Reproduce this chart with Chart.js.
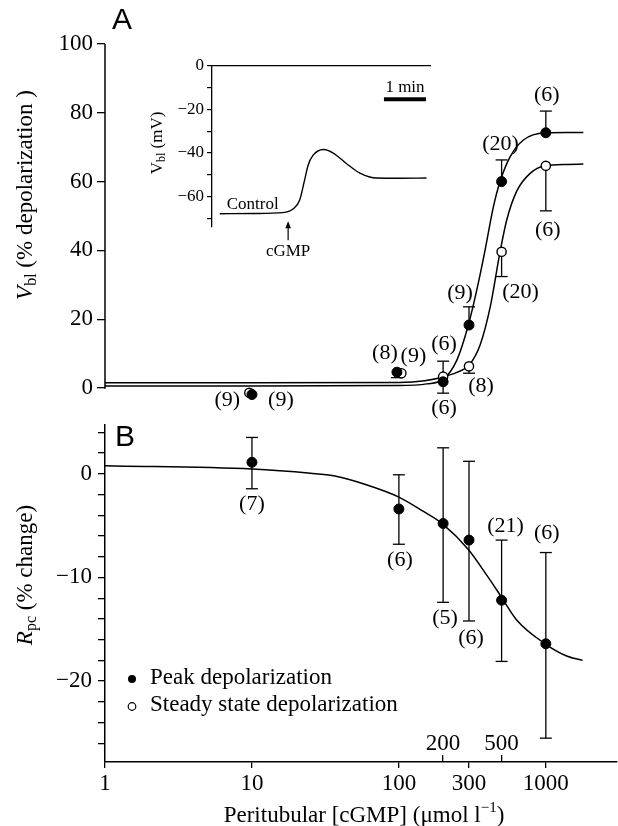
<!DOCTYPE html>
<html><head><meta charset="utf-8">
<script src="https://cdn.jsdelivr.net/npm/chart.js@4"></script>
<style>
html,body{margin:0;padding:0;background:#fff;}
#wrap{position:relative;width:618px;height:826px;overflow:hidden;}
canvas{position:absolute;}
</style></head><body>
<div id="wrap">
<canvas id="cB" width="618" height="426" style="left:0;top:400px"></canvas>
<canvas id="cA" width="618" height="420" style="left:0;top:0"></canvas>
<canvas id="cI" width="300" height="215" style="left:140px;top:50px"></canvas>
</div>
<script>
// ---------------- DATA ----------------
const seriesNames = ['Peak depolarization', 'Steady state depolarization'];

// Panel A: peak depolarization (filled)
const concA_peak = [10, 97, 200, 300, 500, 1000];
const valA_peak  = [-1.9, 4.6, 1.8, 18.3, 60, 74.2];
const errEndA_peak = [null, 3.0, -1.5, 23.6, 66.3, 80.5];
const nA_peak = ['(9)', '(8)', '(6)', '(9)', '(20)', '(6)'];

// Panel A: steady state depolarization (open)
const concA_steady = [9.6, 104, 200, 300, 500, 1000];
const valA_steady  = [-1.4, 4.3, 3.3, 6.3, 39.6, 64.6];
const errEndA_steady = [null, null, 7.8, 4.3, 32.4, 51.5];
const nA_steady = ['(9)', '(9)', '(6)', '(8)', '(20)', '(6)'];

// Panel A fitted curves
const fitA_peak_x = [1, 10, 100, 155, 200, 248, 297, 339, 386, 440, 488, 571, 704, 989, 1400, 1800];
const fitA_peak_y = [0.6, 0.6, 0.7, 1.2, 2.5, 8.1, 18.3, 28.5, 40.1, 52.7, 60, 67.2, 72.1, 74.2, 74.3, 74.3];
const fitA_steady_x = [1, 10, 100, 150, 200, 250, 300, 357, 418, 488, 543, 635, 782, 989, 1400, 1800];
const fitA_steady_y = [1.5, 1.5, 1.6, 2.1, 3.2, 4.6, 6.6, 12.5, 23.5, 39.6, 49.0, 57.3, 62.4, 64.6, 65.0, 65.1];

// Panel B: Rpc (% change)
const concB = [10, 100, 200, 300, 500, 1000];
const valB  = [1.1, -3.4, -4.8, -6.4, -12.2, -16.4];
const errB_hi = [3.5, -0.1, 2.5, 1.2, -6.4, -7.6];
const errB_lo = [-1.45, -6.8, -12.4, -14.2, -18.1, -25.5];
const nB = ['(7)', '(6)', '(5)', '(6)', '(21)', '(6)'];
const fitB_x = [1, 10, 25, 36, 60, 100, 147, 198, 297, 397, 489, 633, 989, 1372, 1780];
const fitB_y = [0.77, 0.45, 0.05, -0.2, -1.06, -2.25, -3.64, -4.83, -7.3, -9.8, -11.7, -14.1, -16.4, -17.55, -18.0];

// Axis ticks
const xTicksDown = [1, 10, 100, 300, 1000];
const xTicksUp = [200, 500];
const yTicksA = [0, 20, 40, 60, 80, 100];
const yTicksB = [-26, -24, -22, -20, -18, -16, -14, -12, -10, -8, -6, -4, -2, 0, 2, 4];
const yTicksInset = [-70, -60, -50, -40, -30, -20, -10, 0];

// Inset trace: time (s) vs Vbl (mV)
const traceT = [11, 60, 101, 116, 125, 132, 137, 144, 159, 173, 192, 211, 235, 268, 306];
const traceV = [-67.9, -67.8, -67.4, -65.6, -61.7, -52.6, -45.7, -41.1, -38.4, -40.0, -44.9, -49.2, -51.5, -51.6, -51.5];
const scaleBarT = [245.3, 305.3];
const scaleBarV = [-15.3, -15.3];

// ---------------- LAYOUT / STYLE ----------------
const SERIF = "'Liberation Serif', 'Times New Roman', serif";
const SANS = "'Liberation Sans', Arial, sans-serif";
const TICK_FONT = {family: SERIF, size: 23};
const LABEL_FONT = '22px ' + SERIF;
const INK = '#000';
const X_MIN = 1, X_MAX = 3050;
const labelOffA_peak = [[29, 5.5], [-12, -19], [1, 26], [-9, -32], [-1, -37], [1, -38]];
const labelOffA_steady = [[-22, 7], [12, -17], [1, -32], [12, 20], [19, 40], [2, 64]];
const labelOffB = [[0, 42], [1, 51], [2, 95], [2, 98], [4, -74], [1, -111]];
const insetNotes = {
  minLabel: {t: 275.3, v: -11.9},
  control: {t: 21, v: -65.9},
  arrow: {t: 108.6, from: -80.1, to: -71.3},
  cgmp: {t: 108.6, v: -85.5}
};

Chart.defaults.color = INK;
Chart.defaults.font.family = SERIF;

function minus(v) { return v < 0 ? '\u2212' + Math.abs(v) : String(v); }

function richText(ctx, segs, x, y, rot) {
  ctx.save();
  ctx.translate(x, y);
  if (rot) ctx.rotate(rot);
  ctx.textBaseline = 'middle';
  ctx.textAlign = 'left';
  let w = 0;
  segs.forEach(s => { ctx.font = s.font; s.w = ctx.measureText(s.t).width; w += s.w; });
  let cx = -w / 2;
  segs.forEach(s => { ctx.font = s.font; ctx.fillText(s.t, cx, s.dy || 0); cx += s.w; });
  ctx.restore();
}

function pts(xs, ys) { return xs.map((x, i) => ({x: x, y: ys[i]})); }

function curveDs(xs, ys) {
  return {type: 'line', data: pts(xs, ys), borderColor: INK, borderWidth: 1.5, pointRadius: 0,
    cubicInterpolationMode: 'monotone', order: 2, fill: false};
}
function pointDs(xs, ys, filled) {
  return {type: 'line', data: pts(xs, ys), showLine: false, clip: false, order: 0,
    pointRadius: filled ? 5 : 4.6, pointBackgroundColor: filled ? INK : '#fff',
    pointBorderColor: INK, pointBorderWidth: filled ? 1 : 1.4};
}
function errOneSided(xs, ys, ends) {
  const out = [];
  xs.forEach((x, i) => {
    if (ends[i] === null) return;
    out.push({type: 'line', data: [{x: x, y: ys[i]}, {x: x, y: ends[i]}], borderColor: INK, borderWidth: 1.3,
      pointStyle: 'line', pointRadius: [0, 6], pointBorderColor: INK, pointBorderWidth: 1.3, order: 1, clip: false});
  });
  return out;
}
function errTwoSided(xs, lo, hi) {
  return xs.map((x, i) => ({type: 'line', data: [{x: x, y: lo[i]}, {x: x, y: hi[i]}], borderColor: INK, borderWidth: 1.3,
    pointStyle: 'line', pointRadius: 6, pointBorderColor: INK, pointBorderWidth: 1.3, order: 1, clip: false}));
}

const common = {
  animation: false, responsive: false, devicePixelRatio: 1, events: [],
  plugins: {legend: {display: false}, tooltip: {enabled: false}}
};

// ---------------- PANEL A ----------------
const pluginA = {
  id: 'panelA',
  beforeDatasetsDraw(chart) {
    const {ctx, scales: {y}, chartArea} = chart;
    ctx.save();
    ctx.strokeStyle = INK; ctx.lineWidth = 1.5;
    ctx.beginPath();
    ctx.moveTo(chartArea.left, y.getPixelForValue(yTicksA[yTicksA.length - 1]));
    ctx.lineTo(chartArea.left, y.getPixelForValue(yTicksA[0]) + 0.7);
    ctx.stroke();
    ctx.restore();
  },
  afterDatasetsDraw(chart) {
    const {ctx, scales: {x, y}, chartArea} = chart;
    ctx.save();
    ctx.fillStyle = INK;
    ctx.font = LABEL_FONT; ctx.textAlign = 'center'; ctx.textBaseline = 'middle';
    concA_peak.forEach((c, i) => {
      const o = labelOffA_peak[i];
      ctx.fillText(nA_peak[i], x.getPixelForValue(c) + o[0], y.getPixelForValue(valA_peak[i]) + o[1]);
    });
    concA_steady.forEach((c, i) => {
      const o = labelOffA_steady[i];
      ctx.fillText(nA_steady[i], x.getPixelForValue(c) + o[0], y.getPixelForValue(valA_steady[i]) + o[1]);
    });
    ctx.font = '30px ' + SANS; ctx.textAlign = 'left';
    ctx.fillText('A', chartArea.left + 7, 21);
    richText(ctx, [
      {t: 'V', font: 'italic 23px ' + SERIF},
      {t: 'bl', font: '16px ' + SERIF, dy: 6},
      {t: ' (% depolarization )', font: '23px ' + SERIF}
    ], 26, 195, -Math.PI / 2);
    ctx.restore();
  }
};

new Chart(document.getElementById('cA'), {
  type: 'line',
  data: {datasets: [
    curveDs(fitA_peak_x, fitA_peak_y),
    curveDs(fitA_steady_x, fitA_steady_y),
    ...errOneSided(concA_peak, valA_peak, errEndA_peak),
    ...errOneSided(concA_steady, valA_steady, errEndA_steady),
    pointDs(concA_peak, valA_peak, true),
    pointDs(concA_steady, valA_steady, false)
  ]},
  options: Object.assign({}, common, {
    layout: {autoPadding: false, padding: {top: 44, bottom: 18.24, left: 0, right: 1}},
    scales: {
      x: {type: 'logarithmic', min: X_MIN, max: X_MAX, display: false},
      y: {type: 'linear', min: -4, max: 100, position: 'left',
        afterFit(s) { s.width = 105; },
        afterBuildTicks(s) { s.ticks = yTicksA.map(v => ({value: v})); },
        ticks: {font: TICK_FONT, color: INK, padding: 4, callback: v => minus(v)},
        grid: {drawOnChartArea: false, color: INK, lineWidth: 1.3, tickLength: 8},
        border: {display: false}
      }
    }
  }),
  plugins: [pluginA]
});

// ---------------- PANEL B ----------------
const pluginB = {
  id: 'panelB',
  afterDatasetsDraw(chart) {
    const {ctx, scales: {x, y}, chartArea} = chart;
    ctx.save();
    ctx.fillStyle = INK;
    ctx.font = LABEL_FONT; ctx.textAlign = 'center'; ctx.textBaseline = 'middle';
    concB.forEach((c, i) => {
      const o = labelOffB[i];
      ctx.fillText(nB[i], x.getPixelForValue(c) + o[0], y.getPixelForValue(valB[i]) + o[1]);
    });
    ctx.font = '30px ' + SANS; ctx.textAlign = 'left';
    ctx.fillText('B', chartArea.left + 10, 38);
    // legend
    const lx = chartArea.left + 27, ly1 = 279, ly2 = 306;
    ctx.beginPath(); ctx.arc(lx, ly1, 4, 0, Math.PI * 2); ctx.fill();
    ctx.beginPath(); ctx.arc(lx, ly2 + 0.5, 3.8, 0, Math.PI * 2);
    ctx.fillStyle = '#fff'; ctx.fill(); ctx.lineWidth = 1.2; ctx.strokeStyle = INK; ctx.stroke();
    ctx.fillStyle = INK;
    ctx.font = '23px ' + SERIF; ctx.textAlign = 'left';
    ctx.fillText(seriesNames[0], lx + 18, ly1 - 1);
    ctx.fillText(seriesNames[1], lx + 18, ly2 - 1);
    // axis titles
    richText(ctx, [
      {t: 'R', font: 'italic 23px ' + SERIF},
      {t: 'pc', font: '16px ' + SERIF, dy: 6},
      {t: ' (% change)', font: '23px ' + SERIF}
    ], 26, 175, -Math.PI / 2);
    richText(ctx, [
      {t: 'Peritubular [cGMP] (\u03bcmol l', font: '23px ' + SERIF},
      {t: '\u22121', font: '15px ' + SERIF, dy: -8},
      {t: ')', font: '23px ' + SERIF}
    ], 364, 416, 0);
    ctx.restore();
  }
};

new Chart(document.getElementById('cB'), {
  type: 'line',
  data: {datasets: [
    curveDs(fitB_x, fitB_y),
    ...errTwoSided(concB, errB_lo, errB_hi),
    pointDs(concB, valB, true)
  ]},
  options: Object.assign({}, common, {
    layout: {autoPadding: false, padding: {top: 25, bottom: 0, left: 0, right: 1}},
    scales: {
      x: {type: 'logarithmic', min: X_MIN, max: X_MAX, position: 'bottom', weight: 1,
        afterFit(s) { s.height = 64; },
        afterBuildTicks(s) { s.ticks = xTicksDown.map(v => ({value: v})); },
        ticks: {font: TICK_FONT, color: INK, padding: 2, autoSkip: false, maxRotation: 0, callback: v => String(v)},
        grid: {drawOnChartArea: false, color: INK, lineWidth: 1.3, tickLength: 6},
        border: {display: true, color: INK, width: 1.5}
      },
      x2: {type: 'logarithmic', min: X_MIN, max: X_MAX, position: 'bottom', weight: -1,
        afterFit(s) { s.height = 0; },
        afterBuildTicks(s) { s.ticks = xTicksUp.map(v => ({value: v})); },
        ticks: {font: TICK_FONT, color: INK, mirror: true, padding: 4, autoSkip: false, maxRotation: 0, callback: v => String(v)},
        grid: {drawOnChartArea: false, color: INK, lineWidth: 1.3, tickLength: -7},
        border: {display: false}
      },
      y: {type: 'linear', min: -27.8, max: 4.7, position: 'left',
        afterFit(s) { s.width = 105; },
        afterBuildTicks(s) { s.ticks = yTicksB.map(v => ({value: v})); },
        ticks: {font: TICK_FONT, color: INK, padding: 6, autoSkip: false, callback: v => (v % 10 === 0 ? minus(v) : '')},
        grid: {drawOnChartArea: false, color: INK, lineWidth: 1.3, tickLength: 7},
        border: {display: true, color: INK, width: 1.5}
      }
    }
  }),
  plugins: [pluginB]
});

// ---------------- INSET ----------------
const pluginI = {
  id: 'inset',
  afterDatasetsDraw(chart) {
    const {ctx, scales: {x, y}} = chart;
    ctx.save();
    ctx.fillStyle = INK; ctx.strokeStyle = INK;
    ctx.font = '17px ' + SERIF;
    ctx.textAlign = 'center'; ctx.textBaseline = 'alphabetic';
    ctx.fillText('1 min', x.getPixelForValue(insetNotes.minLabel.t), y.getPixelForValue(insetNotes.minLabel.v));
    ctx.textAlign = 'left';
    ctx.fillText('Control', x.getPixelForValue(insetNotes.control.t), y.getPixelForValue(insetNotes.control.v));
    const ax = x.getPixelForValue(insetNotes.arrow.t);
    const y0 = y.getPixelForValue(insetNotes.arrow.from), y1 = y.getPixelForValue(insetNotes.arrow.to);
    ctx.lineWidth = 1.2;
    ctx.beginPath(); ctx.moveTo(ax, y0); ctx.lineTo(ax, y1 + 2); ctx.stroke();
    ctx.beginPath(); ctx.moveTo(ax, y1); ctx.lineTo(ax - 2.8, y1 + 7); ctx.lineTo(ax + 2.8, y1 + 7); ctx.closePath(); ctx.fill();
    ctx.textAlign = 'center'; ctx.textBaseline = 'middle';
    ctx.fillText('cGMP', ax, y.getPixelForValue(insetNotes.cgmp.v));
    richText(ctx, [
      {t: 'V', font: '17px ' + SERIF},
      {t: 'bl', font: '12px ' + SERIF, dy: 4},
      {t: ' (mV)', font: '17px ' + SERIF}
    ], 18, 93, -Math.PI / 2);
    ctx.restore();
  }
};

new Chart(document.getElementById('cI'), {
  type: 'line',
  data: {datasets: [
    {type: 'line', data: pts(traceT, traceV), borderColor: INK, borderWidth: 1.4, pointRadius: 0, cubicInterpolationMode: 'monotone'},
    {type: 'line', data: pts(scaleBarT, scaleBarV), borderColor: INK, borderWidth: 4, pointRadius: 0, borderCapStyle: 'butt'}
  ]},
  options: Object.assign({}, common, {
    layout: {autoPadding: false, padding: {top: 16, bottom: 38, left: 0, right: 10}},
    scales: {
      x: {type: 'linear', min: 0, max: 311, position: 'top',
        afterFit(s) { s.height = 0; },
        ticks: {display: false},
        grid: {display: false, drawTicks: false},
        border: {display: true, color: INK, width: 1.3}
      },
      y: {type: 'linear', min: -74, max: 0, position: 'left',
        afterFit(s) { s.width = 72; },
        afterBuildTicks(s) { s.ticks = yTicksInset.map(v => ({value: v})); },
        ticks: {font: {family: SERIF, size: 17}, color: INK, padding: 3, autoSkip: false, callback: v => (v % 20 === 0 ? minus(v) : '')},
        grid: {drawOnChartArea: false, color: INK, lineWidth: 1.2, tickLength: 5},
        border: {display: true, color: INK, width: 1.3}
      }
    }
  }),
  plugins: [pluginI]
});
</script>
</body></html>
